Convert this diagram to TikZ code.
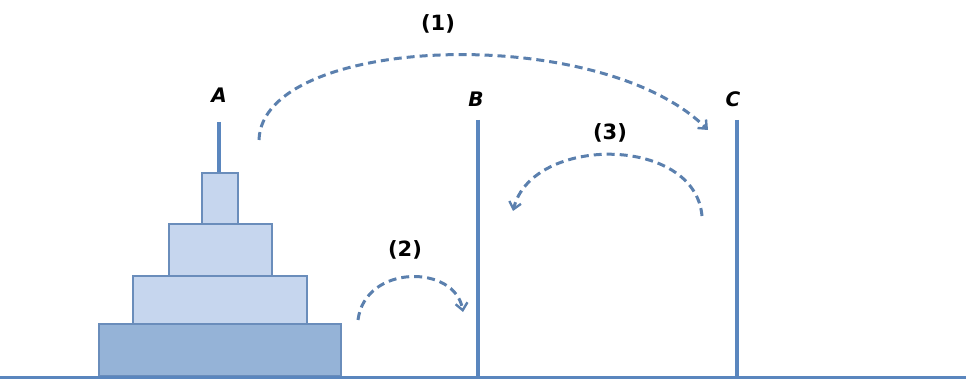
\documentclass[tikz,border=0pt]{standalone}
\usepackage{fontspec}
\setmainfont{DejaVu Sans}
\usetikzlibrary{arrows.meta}
\definecolor{pegblue}{HTML}{5A86BE}
\definecolor{diskline}{HTML}{6A8DBB}
\definecolor{diskfill}{HTML}{C6D6EE}
\definecolor{basefill}{HTML}{95B3D7}
\definecolor{movecol}{HTML}{5B80AE}
\tikzset{
  peg/.style={pegblue,line width=4pt},
  disk/.style={draw=diskline,line width=2pt,fill=diskfill},
  move/.style={movecol,line width=3pt,dash pattern=on 8pt off 5pt,
    -{Straight Barb[length=7pt,width=12pt,line width=2.4pt]}},
  pegname/.style={font=\fontsize{20}{24}\selectfont\bfseries\itshape},
  stepname/.style={font=\fontsize{21}{25}\selectfont\bfseries}
}
\begin{document}
\begin{tikzpicture}[x=1pt,y=-1pt]
\useasboundingbox (0,0) rectangle (966,379);

% pegs
\draw[peg] (219,122) -- (219,176);
\draw[peg] (478,120) -- (478,376);
\draw[peg] (737,120) -- (737,376);

% disks
\draw[disk] (202,173) rectangle (238,224);
\draw[disk] (169,224) rectangle (272,276);
\draw[disk] (133,276) rectangle (307,324);
\draw[disk,fill=basefill] (99,324) rectangle (341,376);

% base
\draw[pegblue,line width=3pt] (0,377) -- (966,377);

% peg names
\node[pegname] (A) at (219,95) {A};
\node[pegname] (B) at (476,99) {B};
\node[pegname] (C) at (733,99) {C};

% moves
\coordinate (m1s) at (259,140);
\coordinate (m1e) at (708,130);
\coordinate (m2s) at (358,320);
\coordinate (m2e) at (463,312);
\coordinate (m3s) at (702,216);
\coordinate (m3e) at (513,211);

\draw[move] (m1s) .. controls (262,35) and (600,22) .. (m1e);
\draw[move] (m2s) .. controls (365,264) and (455,264) .. (m2e);
\draw[move] (m3s) .. controls (695,135) and (532,135) .. (m3e);

\node[stepname] (s1) at (438,24) {(1)};
\node[stepname] (s2) at (405,250) {(2)};
\node[stepname] (s3) at (610,133) {(3)};
\end{tikzpicture}
\end{document}
